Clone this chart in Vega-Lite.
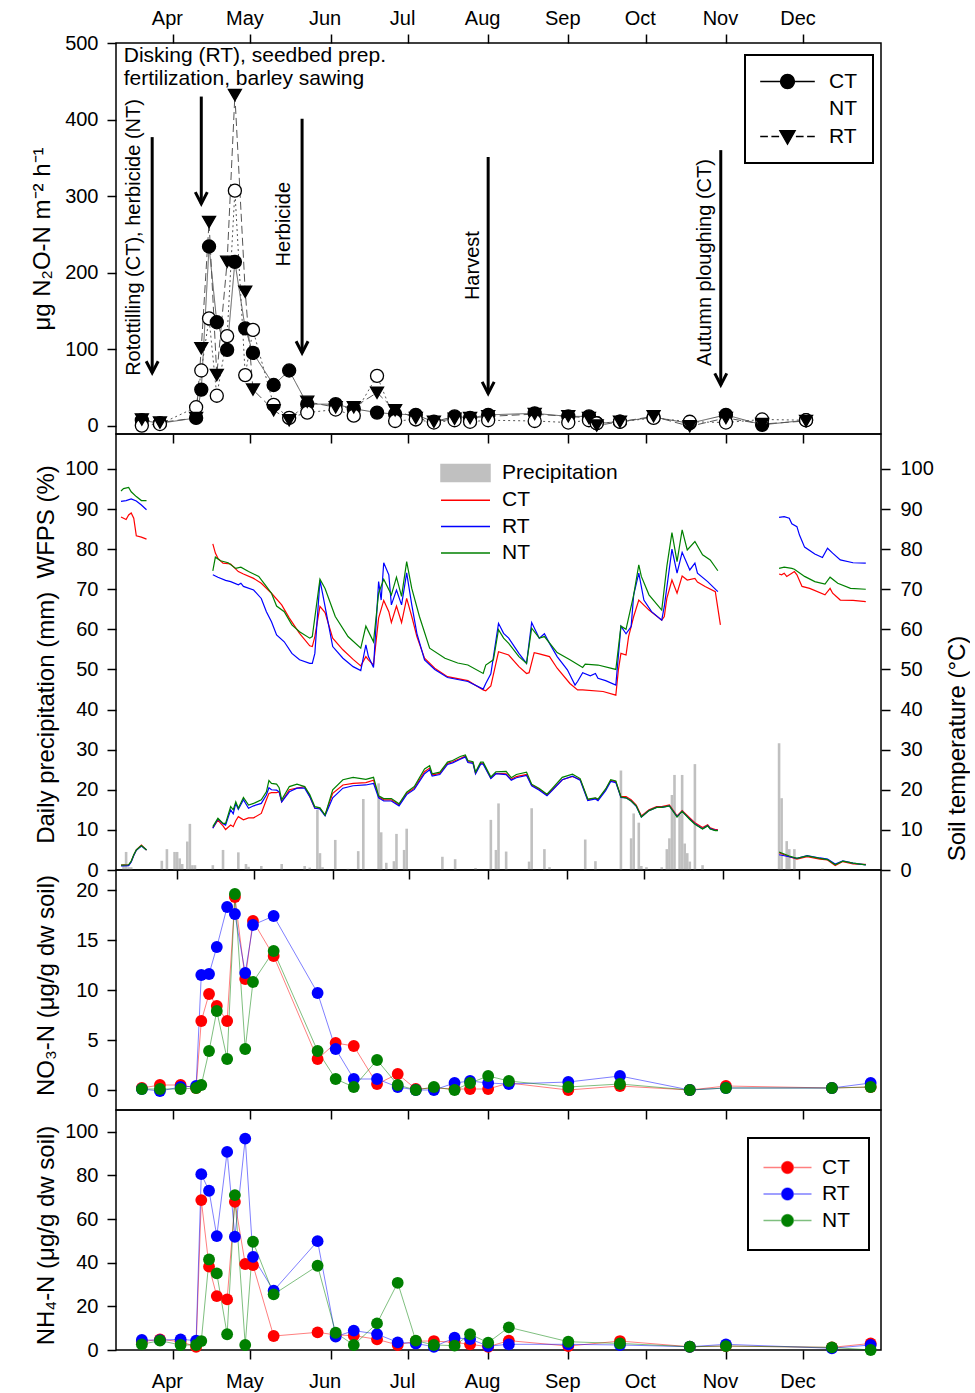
{
"$schema": "https://vega.github.io/schema/vega-lite/v6.json",
"padding": {"left": 29, "top": 7, "right": 0, "bottom": 0},
"bounds": "flush",
"spacing": 0,
"resolve": {"scale": {"color": "independent", "shape": "independent", "fill": "independent", "strokeDash": "independent", "opacity": "independent"}, "legend": {"color": "independent", "shape": "independent", "fill": "independent", "strokeDash": "independent", "opacity": "independent"}},
"config": {
 "font": "Liberation Sans",
 "view": {"stroke": "black", "strokeWidth": 1.5},
 "axis": {"domain": false, "grid": false, "tickColor": "black", "tickWidth": 1.5, "tickSize": 9, "labelFontSize": 20, "labelColor": "black", "labelFont": "Liberation Sans", "titleFont": "Liberation Sans", "titleFontSize": 24, "titleFontWeight": "normal", "titleColor": "black", "labelPadding": 9, "labelFlush": false, "labelOverlap": false},
 "axisBottom": {"labelPadding": 12, "labelOffset": -6},
 "axisTop": {"labelPadding": 6, "labelOffset": -6},
 "legend": {"labelFont": "Liberation Sans", "labelFontSize": 21, "labelColor": "black"}
},
"datasets": {
 "n2o": [
  {"d":"2011-03-20","CT":7,"NT":0,"RT":8},
  {"d":"2011-03-27","CT":3,"NT":2,"RT":4},
  {"d":"2011-04-10","CT":10,"NT":24,"RT":10},
  {"d":"2011-04-12","CT":47,"NT":72,"RT":101},
  {"d":"2011-04-15","CT":234,"NT":140,"RT":266},
  {"d":"2011-04-18","CT":135,"NT":39,"RT":66},
  {"d":"2011-04-22","CT":99,"NT":117,"RT":214},
  {"d":"2011-04-25","CT":214,"NT":307,"RT":432},
  {"d":"2011-04-29","CT":127,"NT":66,"RT":175},
  {"d":"2011-05-02","CT":95,"NT":125,"RT":47},
  {"d":"2011-05-10","CT":53,"NT":27,"RT":20},
  {"d":"2011-05-16","CT":72,"NT":10,"RT":7},
  {"d":"2011-05-23","CT":28,"NT":17,"RT":31},
  {"d":"2011-06-03","CT":28,"NT":21,"RT":24},
  {"d":"2011-06-10","CT":22,"NT":13,"RT":24},
  {"d":"2011-06-19","CT":17,"NT":65,"RT":43},
  {"d":"2011-06-26","CT":15,"NT":6,"RT":20},
  {"d":"2011-07-04","CT":14,"NT":8,"RT":10},
  {"d":"2011-07-11","CT":5,"NT":4,"RT":5},
  {"d":"2011-07-19","CT":12,"NT":7,"RT":9},
  {"d":"2011-07-25","CT":10,"NT":5,"RT":10},
  {"d":"2011-08-01","CT":14,"NT":7,"RT":12},
  {"d":"2011-08-19","CT":16,"NT":6,"RT":15},
  {"d":"2011-09-01","CT":12,"NT":4,"RT":12},
  {"d":"2011-09-09","CT":12,"NT":7,"RT":10},
  {"d":"2011-09-12","CT":3,"NT":3,"RT":0},
  {"d":"2011-09-21","CT":5,"NT":5,"RT":5},
  {"d":"2011-10-04","CT":11,"NT":10,"RT":12},
  {"d":"2011-10-18","CT":3,"NT":5,"RT":-1},
  {"d":"2011-11-01","CT":14,"NT":4,"RT":10},
  {"d":"2011-11-15","CT":1,"NT":8,"RT":2},
  {"d":"2011-12-02","CT":7,"NT":7,"RT":6}
 ],
 "arrows": [
  {"d":"2011-03-24","top":377,"tip":69},
  {"d":"2011-04-12","top":430,"tip":290},
  {"d":"2011-05-21","top":401,"tip":95},
  {"d":"2011-08-01","top":351,"tip":42},
  {"d":"2011-10-30","top":360,"tip":53}
 ],
 "rnotes": [
  {"d":"2011-03-17","v":65,"label":"Rotottilling (CT), herbicide (NT)"},
  {"d":"2011-05-14","v":208,"label":"Herbicide"},
  {"d":"2011-07-26","v":164,"label":"Harvest"},
  {"d":"2011-10-24","v":78,"label":"Autumn ploughing (CT)"}
 ],
 "hnotes": [
  {"d":"2011-03-13","v":475,"label":"Disking (RT), seedbed prep."},
  {"d":"2011-03-13","v":445,"label":"fertilization, barley sawing"}
 ],
 "prec": [
  {"d":"2011-03-11","p":1.5},{"d":"2011-03-12","p":4.5},{"d":"2011-03-13","p":0.7},{"d":"2011-03-14","p":0.7},
  {"d":"2011-03-26","p":2.3},{"d":"2011-03-28","p":5.2},{"d":"2011-03-31","p":4.5},{"d":"2011-04-01","p":4.5},
  {"d":"2011-04-02","p":2.9},{"d":"2011-04-03","p":1.5},{"d":"2011-04-05","p":7.1},{"d":"2011-04-06","p":11.5},
  {"d":"2011-04-07","p":1.2},{"d":"2011-04-08","p":1.2},{"d":"2011-04-15","p":1.2},{"d":"2011-04-19","p":5.0},
  {"d":"2011-04-25","p":4.4},{"d":"2011-04-28","p":1.5},{"d":"2011-04-29","p":0.8},{"d":"2011-05-04","p":1.0},
  {"d":"2011-05-12","p":1.5},{"d":"2011-05-21","p":1.0},{"d":"2011-05-23","p":0.6},{"d":"2011-05-26","p":15.0},
  {"d":"2011-05-27","p":4.2},{"d":"2011-05-28","p":0.7},{"d":"2011-06-02","p":7.5},{"d":"2011-06-07","p":0.3},
  {"d":"2011-06-11","p":4.7},{"d":"2011-06-13","p":17.7},{"d":"2011-06-19","p":21.6},{"d":"2011-06-20","p":9.4},
  {"d":"2011-06-22","p":1.8},{"d":"2011-06-25","p":2.2},{"d":"2011-06-26","p":9.0},{"d":"2011-06-29","p":5.0},
  {"d":"2011-06-30","p":10.3},{"d":"2011-07-14","p":3.3},{"d":"2011-07-19","p":2.7},{"d":"2011-07-27","p":0.5},
  {"d":"2011-08-02","p":12.5},{"d":"2011-08-04","p":5.0},{"d":"2011-08-05","p":16.6},{"d":"2011-08-08","p":4.6},
  {"d":"2011-08-17","p":2.1},{"d":"2011-08-18","p":15.4},{"d":"2011-08-23","p":5.2},{"d":"2011-08-25","p":0.7},
  {"d":"2011-09-08","p":7.6},{"d":"2011-09-12","p":2.2},{"d":"2011-09-22","p":24.8},{"d":"2011-09-26","p":7.9},
  {"d":"2011-09-27","p":14.1},{"d":"2011-09-29","p":11.8},{"d":"2011-09-30","p":1.0},{"d":"2011-10-02","p":0.7},
  {"d":"2011-10-08","p":0.7},{"d":"2011-10-10","p":5.2},{"d":"2011-10-11","p":7.9},{"d":"2011-10-12","p":18.7},
  {"d":"2011-10-13","p":23.7},{"d":"2011-10-15","p":13.7},{"d":"2011-10-16","p":23.7},{"d":"2011-10-17","p":6.6},
  {"d":"2011-10-18","p":4.2},{"d":"2011-10-19","p":2.1},{"d":"2011-10-21","p":26.4},{"d":"2011-10-24","p":1.2},
  {"d":"2011-11-23","p":31.6},{"d":"2011-11-24","p":17.9},{"d":"2011-11-26","p":7.2},{"d":"2011-11-27","p":5.2},
  {"d":"2011-11-29","p":5.2},{"d":"2011-12-10","p":0.4}
 ],
 "wfps": [
  {"d":"2011-03-10","s":1,"CT":88.0,"RT":91.9,"NT":94.5},
  {"d":"2011-03-11","s":1,"CT":null,"RT":null,"NT":95.1},
  {"d":"2011-03-12","s":1,"CT":87.4,"RT":92.1,"NT":null},
  {"d":"2011-03-13","s":1,"CT":88.5,"RT":null,"NT":95.4},
  {"d":"2011-03-14","s":1,"CT":89.0,"RT":92.5,"NT":94.3},
  {"d":"2011-03-15","s":1,"CT":87.7,"RT":null,"NT":null},
  {"d":"2011-03-16","s":1,"CT":83.3,"RT":92.0,"NT":93.1},
  {"d":"2011-03-18","s":1,"CT":83.0,"RT":91.0,"NT":92.1},
  {"d":"2011-03-20","s":1,"CT":82.5,"RT":89.8,"NT":92.1},
  {"d":"2011-04-15","s":2,"CT":81.3,"RT":73.6,"NT":74.6},
  {"d":"2011-04-16","s":2,"CT":79.0,"RT":null,"NT":78.0},
  {"d":"2011-04-17","s":2,"CT":77.7,"RT":73.0,"NT":null},
  {"d":"2011-04-18","s":2,"CT":null,"RT":null,"NT":77.1},
  {"d":"2011-04-19","s":2,"CT":76.5,"RT":null,"NT":null},
  {"d":"2011-04-20","s":2,"CT":null,"RT":72.2,"NT":null},
  {"d":"2011-04-21","s":2,"CT":null,"RT":null,"NT":76.6},
  {"d":"2011-04-22","s":2,"CT":76.3,"RT":71.9,"NT":null},
  {"d":"2011-04-24","s":2,"CT":null,"RT":null,"NT":75.2},
  {"d":"2011-04-25","s":2,"CT":74.4,"RT":71.1,"NT":null},
  {"d":"2011-04-26","s":2,"CT":null,"RT":71.5,"NT":75.5},
  {"d":"2011-04-27","s":2,"CT":73.8,"RT":70.7,"NT":null},
  {"d":"2011-04-29","s":2,"CT":null,"RT":null,"NT":74.4},
  {"d":"2011-05-01","s":2,"CT":72.7,"RT":69.8,"NT":null},
  {"d":"2011-05-03","s":2,"CT":null,"RT":null,"NT":73.2},
  {"d":"2011-05-04","s":2,"CT":71.5,"RT":67.7,"NT":null},
  {"d":"2011-05-05","s":2,"CT":null,"RT":null,"NT":71.5},
  {"d":"2011-05-06","s":2,"CT":null,"RT":64.4,"NT":null},
  {"d":"2011-05-08","s":2,"CT":69.0,"RT":61.9,"NT":69.0},
  {"d":"2011-05-10","s":2,"CT":null,"RT":58.6,"NT":65.8},
  {"d":"2011-05-12","s":2,"CT":66.1,"RT":null,"NT":null},
  {"d":"2011-05-13","s":2,"CT":null,"RT":56.9,"NT":64.4},
  {"d":"2011-05-15","s":2,"CT":62.8,"RT":null,"NT":null},
  {"d":"2011-05-16","s":2,"CT":null,"RT":54.0,"NT":61.1},
  {"d":"2011-05-19","s":2,"CT":59.0,"RT":52.4,"NT":59.4},
  {"d":"2011-05-23","s":2,"CT":55.9,"RT":51.5,"NT":57.8},
  {"d":"2011-05-24","s":2,"CT":55.7,"RT":51.5,"NT":58.2},
  {"d":"2011-05-25","s":2,"CT":58.2,"RT":54.0,"NT":null},
  {"d":"2011-05-27","s":2,"CT":65.7,"RT":72.2,"NT":72.5},
  {"d":"2011-05-28","s":2,"CT":null,"RT":69.0,"NT":null},
  {"d":"2011-05-29","s":2,"CT":64.2,"RT":null,"NT":70.2},
  {"d":"2011-06-01","s":2,"CT":57.8,"RT":55.7,"NT":null},
  {"d":"2011-06-02","s":2,"CT":null,"RT":null,"NT":63.2},
  {"d":"2011-06-05","s":2,"CT":54.9,"RT":52.8,"NT":null},
  {"d":"2011-06-07","s":2,"CT":null,"RT":null,"NT":58.2},
  {"d":"2011-06-09","s":2,"CT":52.5,"RT":50.7,"NT":null},
  {"d":"2011-06-12","s":2,"CT":50.9,"RT":49.7,"NT":55.3},
  {"d":"2011-06-14","s":2,"CT":53.2,"RT":56.1,"NT":60.8},
  {"d":"2011-06-15","s":2,"CT":52.4,"RT":53.2,"NT":null},
  {"d":"2011-06-17","s":2,"CT":51.1,"RT":50.5,"NT":56.9},
  {"d":"2011-06-19","s":2,"CT":62.8,"RT":71.9,"NT":69.0},
  {"d":"2011-06-20","s":2,"CT":null,"RT":67.3,"NT":null},
  {"d":"2011-06-21","s":2,"CT":67.2,"RT":76.6,"NT":72.5},
  {"d":"2011-06-23","s":2,"CT":64.4,"RT":73.6,"NT":null},
  {"d":"2011-06-24","s":2,"CT":61.7,"RT":66.1,"NT":68.6},
  {"d":"2011-06-26","s":2,"CT":65.8,"RT":69.8,"NT":73.0},
  {"d":"2011-06-28","s":2,"CT":61.7,"RT":66.1,"NT":68.2},
  {"d":"2011-06-30","s":2,"CT":67.7,"RT":74.1,"NT":76.9},
  {"d":"2011-07-02","s":2,"CT":63.2,"RT":66.1,"NT":70.2},
  {"d":"2011-07-04","s":2,"CT":58.2,"RT":59.0,"NT":null},
  {"d":"2011-07-05","s":2,"CT":null,"RT":null,"NT":63.2},
  {"d":"2011-07-07","s":2,"CT":52.8,"RT":52.4,"NT":null},
  {"d":"2011-07-09","s":2,"CT":null,"RT":null,"NT":55.3},
  {"d":"2011-07-11","s":2,"CT":50.3,"RT":50.0,"NT":null},
  {"d":"2011-07-15","s":2,"CT":null,"RT":null,"NT":52.8},
  {"d":"2011-07-16","s":2,"CT":48.2,"RT":48.0,"NT":null},
  {"d":"2011-07-20","s":2,"CT":null,"RT":null,"NT":51.6},
  {"d":"2011-07-24","s":2,"CT":47.2,"RT":47.0,"NT":51.1},
  {"d":"2011-07-30","s":2,"CT":44.9,"RT":45.1,"NT":49.0},
  {"d":"2011-07-31","s":2,"CT":44.7,"RT":46.5,"NT":51.1},
  {"d":"2011-08-02","s":2,"CT":45.9,"RT":48.9,"NT":null},
  {"d":"2011-08-03","s":2,"CT":null,"RT":null,"NT":52.4},
  {"d":"2011-08-05","s":2,"CT":54.4,"RT":61.5,"NT":59.9},
  {"d":"2011-08-07","s":2,"CT":null,"RT":59.0,"NT":57.8},
  {"d":"2011-08-09","s":2,"CT":53.6,"RT":57.8,"NT":56.5},
  {"d":"2011-08-13","s":2,"CT":50.7,"RT":54.0,"NT":53.2},
  {"d":"2011-08-16","s":2,"CT":49.0,"RT":51.5,"NT":51.5},
  {"d":"2011-08-17","s":2,"CT":49.2,"RT":null,"NT":null},
  {"d":"2011-08-18","s":2,"CT":null,"RT":61.7,"NT":60.3},
  {"d":"2011-08-19","s":2,"CT":54.2,"RT":null,"NT":null},
  {"d":"2011-08-21","s":2,"CT":53.9,"RT":57.8,"NT":57.8},
  {"d":"2011-08-23","s":2,"CT":null,"RT":58.9,"NT":58.2},
  {"d":"2011-08-25","s":2,"CT":53.2,"RT":56.5,"NT":null},
  {"d":"2011-08-28","s":2,"CT":50.3,"RT":53.2,"NT":54.2},
  {"d":"2011-09-01","s":2,"CT":null,"RT":49.9,"NT":null},
  {"d":"2011-09-02","s":2,"CT":46.5,"RT":null,"NT":52.4},
  {"d":"2011-09-04","s":2,"CT":null,"RT":46.1,"NT":null},
  {"d":"2011-09-05","s":2,"CT":44.9,"RT":47.0,"NT":null},
  {"d":"2011-09-07","s":2,"CT":44.9,"RT":49.2,"NT":50.5},
  {"d":"2011-09-08","s":2,"CT":null,"RT":null,"NT":51.3},
  {"d":"2011-09-10","s":2,"CT":null,"RT":48.4,"NT":null},
  {"d":"2011-09-12","s":2,"CT":null,"RT":49.0,"NT":null},
  {"d":"2011-09-13","s":2,"CT":null,"RT":47.8,"NT":51.1},
  {"d":"2011-09-15","s":2,"CT":44.5,"RT":null,"NT":null},
  {"d":"2011-09-16","s":2,"CT":null,"RT":47.2,"NT":null},
  {"d":"2011-09-20","s":2,"CT":43.6,"RT":46.1,"NT":50.0},
  {"d":"2011-09-21","s":2,"CT":49.9,"RT":null,"NT":null},
  {"d":"2011-09-22","s":2,"CT":54.0,"RT":60.8,"NT":60.8},
  {"d":"2011-09-24","s":2,"CT":53.6,"RT":58.9,"NT":60.0},
  {"d":"2011-09-25","s":2,"CT":58.2,"RT":null,"NT":null},
  {"d":"2011-09-26","s":2,"CT":null,"RT":60.7,"NT":null},
  {"d":"2011-09-27","s":2,"CT":63.2,"RT":68.6,"NT":68.6},
  {"d":"2011-09-29","s":2,"CT":67.3,"RT":74.0,"NT":76.1},
  {"d":"2011-09-30","s":2,"CT":null,"RT":null,"NT":73.2},
  {"d":"2011-10-01","s":2,"CT":null,"RT":67.3,"NT":null},
  {"d":"2011-10-03","s":2,"CT":64.8,"RT":null,"NT":68.6},
  {"d":"2011-10-04","s":2,"CT":null,"RT":64.4,"NT":null},
  {"d":"2011-10-08","s":2,"CT":62.3,"RT":62.3,"NT":64.8},
  {"d":"2011-10-09","s":2,"CT":63.2,"RT":65.7,"NT":null},
  {"d":"2011-10-10","s":2,"CT":67.7,"RT":null,"NT":75.7},
  {"d":"2011-10-12","s":2,"CT":72.3,"RT":80.0,"NT":84.1},
  {"d":"2011-10-14","s":2,"CT":69.0,"RT":74.0,"NT":76.9},
  {"d":"2011-10-16","s":2,"CT":73.3,"RT":79.2,"NT":84.8},
  {"d":"2011-10-18","s":2,"CT":72.3,"RT":null,"NT":79.8},
  {"d":"2011-10-19","s":2,"CT":null,"RT":74.8,"NT":null},
  {"d":"2011-10-21","s":2,"CT":72.7,"RT":76.5,"NT":81.9},
  {"d":"2011-10-22","s":2,"CT":71.8,"RT":74.0,"NT":null},
  {"d":"2011-10-24","s":2,"CT":null,"RT":null,"NT":78.6},
  {"d":"2011-10-25","s":2,"CT":70.7,"RT":null,"NT":null},
  {"d":"2011-10-26","s":2,"CT":null,"RT":71.9,"NT":null},
  {"d":"2011-10-27","s":2,"CT":null,"RT":null,"NT":77.3},
  {"d":"2011-10-29","s":2,"CT":69.4,"RT":null,"NT":null},
  {"d":"2011-10-30","s":2,"CT":null,"RT":69.4,"NT":74.6},
  {"d":"2011-10-31","s":2,"CT":61.1,"RT":null,"NT":null},
  {"d":"2011-11-23","s":3,"CT":73.8,"RT":87.9,"NT":75.2},
  {"d":"2011-11-24","s":3,"CT":73.6,"RT":null,"NT":null},
  {"d":"2011-11-25","s":3,"CT":74.0,"RT":88.1,"NT":75.5},
  {"d":"2011-11-26","s":3,"CT":73.2,"RT":null,"NT":null},
  {"d":"2011-11-27","s":3,"CT":null,"RT":87.7,"NT":null},
  {"d":"2011-11-28","s":3,"CT":74.0,"RT":86.3,"NT":75.2},
  {"d":"2011-11-29","s":3,"CT":74.4,"RT":null,"NT":75.0},
  {"d":"2011-11-30","s":3,"CT":73.6,"RT":85.6,"NT":null},
  {"d":"2011-12-01","s":3,"CT":null,"RT":83.5,"NT":null},
  {"d":"2011-12-02","s":3,"CT":70.7,"RT":null,"NT":null},
  {"d":"2011-12-03","s":3,"CT":null,"RT":80.5,"NT":73.2},
  {"d":"2011-12-05","s":3,"CT":70.2,"RT":null,"NT":null},
  {"d":"2011-12-07","s":3,"CT":null,"RT":78.8,"NT":71.9},
  {"d":"2011-12-10","s":3,"CT":null,"RT":77.9,"NT":null},
  {"d":"2011-12-11","s":3,"CT":68.6,"RT":null,"NT":71.3},
  {"d":"2011-12-12","s":3,"CT":null,"RT":80.2,"NT":null},
  {"d":"2011-12-13","s":3,"CT":70.2,"RT":null,"NT":73.0},
  {"d":"2011-12-14","s":3,"CT":69.0,"RT":79.0,"NT":null},
  {"d":"2011-12-16","s":3,"CT":null,"RT":null,"NT":71.5},
  {"d":"2011-12-17","s":3,"CT":67.3,"RT":77.3,"NT":null},
  {"d":"2011-12-21","s":3,"CT":null,"RT":null,"NT":70.2},
  {"d":"2011-12-22","s":3,"CT":67.2,"RT":76.6,"NT":null},
  {"d":"2011-12-27","s":3,"CT":66.9,"RT":76.5,"NT":70.0}
 ],
 "temp": [
  {"d":"2011-03-10","s":1,"CT":1.2,"RT":1.0,"NT":1.2},
  {"d":"2011-03-13","s":1,"CT":1.2,"RT":1.1,"NT":1.3},
  {"d":"2011-03-14","s":1,"CT":2.1,"RT":2.0,"NT":2.2},
  {"d":"2011-03-15","s":1,"CT":3.7,"RT":3.6,"NT":3.8},
  {"d":"2011-03-16","s":1,"CT":5.0,"RT":4.9,"NT":5.0},
  {"d":"2011-03-18","s":1,"CT":6.2,"RT":6.0,"NT":6.1},
  {"d":"2011-03-20","s":1,"CT":5.0,"RT":5.0,"NT":5.0},
  {"d":"2011-04-15","s":2,"CT":10.5,"RT":10.4,"NT":10.8},
  {"d":"2011-04-17","s":2,"CT":12.4,"RT":12.7,"NT":12.9},
  {"d":"2011-04-19","s":2,"CT":11.0,"RT":11.5,"NT":11.6},
  {"d":"2011-04-20","s":2,"CT":10.1,"RT":11.2,"NT":11.6},
  {"d":"2011-04-22","s":2,"CT":11.2,"RT":15.0,"NT":15.8},
  {"d":"2011-04-23","s":2,"CT":10.8,"RT":14.0,"NT":15.0},
  {"d":"2011-04-24","s":2,"CT":12.3,"RT":16.6,"NT":17.0},
  {"d":"2011-04-25","s":2,"CT":13.3,"RT":15.1,"NT":15.4},
  {"d":"2011-04-27","s":2,"CT":12.5,"RT":17.5,"NT":18.1},
  {"d":"2011-04-29","s":2,"CT":13.0,"RT":15.4,"NT":16.2},
  {"d":"2011-05-01","s":2,"CT":13.0,"RT":16.0,"NT":16.6},
  {"d":"2011-05-04","s":2,"CT":14.1,"RT":16.6,"NT":17.5},
  {"d":"2011-05-06","s":2,"CT":17.5,"RT":18.7,"NT":19.5},
  {"d":"2011-05-07","s":2,"CT":19.1,"RT":20.5,"NT":22.3},
  {"d":"2011-05-08","s":2,"CT":19.3,"RT":20.0,"NT":21.6},
  {"d":"2011-05-10","s":2,"CT":19.3,"RT":19.9,"NT":21.4},
  {"d":"2011-05-11","s":2,"CT":19.5,"RT":19.5,"NT":20.5},
  {"d":"2011-05-12","s":2,"CT":17.0,"RT":17.0,"NT":17.5},
  {"d":"2011-05-15","s":2,"CT":20.0,"RT":19.5,"NT":20.8},
  {"d":"2011-05-18","s":2,"CT":20.4,"RT":20.4,"NT":21.4},
  {"d":"2011-05-21","s":2,"CT":20.8,"RT":20.4,"NT":20.8},
  {"d":"2011-05-23","s":2,"CT":18.3,"RT":18.3,"NT":18.8},
  {"d":"2011-05-25","s":2,"CT":15.4,"RT":15.4,"NT":15.8},
  {"d":"2011-05-27","s":2,"CT":15.4,"RT":15.2,"NT":15.5},
  {"d":"2011-05-29","s":2,"CT":13.7,"RT":13.5,"NT":13.7},
  {"d":"2011-06-01","s":2,"CT":19.1,"RT":18.0,"NT":20.0},
  {"d":"2011-06-05","s":2,"CT":21.2,"RT":20.4,"NT":22.5},
  {"d":"2011-06-09","s":2,"CT":21.6,"RT":21.0,"NT":23.1},
  {"d":"2011-06-14","s":2,"CT":21.8,"RT":21.2,"NT":22.6},
  {"d":"2011-06-17","s":2,"CT":22.4,"RT":21.6,"NT":23.1},
  {"d":"2011-06-19","s":2,"CT":18.3,"RT":18.0,"NT":18.5},
  {"d":"2011-06-21","s":2,"CT":17.5,"RT":17.2,"NT":17.8},
  {"d":"2011-06-24","s":2,"CT":17.5,"RT":17.2,"NT":17.8},
  {"d":"2011-06-27","s":2,"CT":16.2,"RT":16.0,"NT":16.5},
  {"d":"2011-06-30","s":2,"CT":19.1,"RT":18.8,"NT":19.4},
  {"d":"2011-07-03","s":2,"CT":20.4,"RT":20.1,"NT":20.8},
  {"d":"2011-07-07","s":2,"CT":24.5,"RT":24.0,"NT":25.2},
  {"d":"2011-07-09","s":2,"CT":25.4,"RT":25.0,"NT":26.0},
  {"d":"2011-07-10","s":2,"CT":23.7,"RT":23.4,"NT":24.0},
  {"d":"2011-07-13","s":2,"CT":24.1,"RT":23.8,"NT":24.4},
  {"d":"2011-07-16","s":2,"CT":26.6,"RT":26.3,"NT":26.9},
  {"d":"2011-07-18","s":2,"CT":27.0,"RT":26.7,"NT":27.3},
  {"d":"2011-07-21","s":2,"CT":27.8,"RT":27.6,"NT":28.3},
  {"d":"2011-07-23","s":2,"CT":28.4,"RT":28.2,"NT":28.7},
  {"d":"2011-07-24","s":2,"CT":27.0,"RT":26.8,"NT":27.3},
  {"d":"2011-07-26","s":2,"CT":26.8,"RT":26.6,"NT":27.0},
  {"d":"2011-07-27","s":2,"CT":24.1,"RT":24.0,"NT":24.4},
  {"d":"2011-07-29","s":2,"CT":26.6,"RT":26.4,"NT":26.9},
  {"d":"2011-07-30","s":2,"CT":26.6,"RT":26.4,"NT":26.9},
  {"d":"2011-08-01","s":2,"CT":24.1,"RT":24.0,"NT":24.4},
  {"d":"2011-08-02","s":2,"CT":22.9,"RT":22.8,"NT":23.2},
  {"d":"2011-08-04","s":2,"CT":24.1,"RT":24.0,"NT":24.5},
  {"d":"2011-08-08","s":2,"CT":24.0,"RT":23.8,"NT":24.6},
  {"d":"2011-08-10","s":2,"CT":22.6,"RT":22.4,"NT":23.0},
  {"d":"2011-08-12","s":2,"CT":23.3,"RT":23.0,"NT":23.8},
  {"d":"2011-08-16","s":2,"CT":23.8,"RT":23.6,"NT":24.4},
  {"d":"2011-08-18","s":2,"CT":21.2,"RT":21.0,"NT":21.4},
  {"d":"2011-08-21","s":2,"CT":20.1,"RT":19.9,"NT":20.3},
  {"d":"2011-08-24","s":2,"CT":18.7,"RT":18.5,"NT":18.9},
  {"d":"2011-08-26","s":2,"CT":20.0,"RT":19.8,"NT":20.3},
  {"d":"2011-08-30","s":2,"CT":22.5,"RT":22.5,"NT":23.1},
  {"d":"2011-09-03","s":2,"CT":23.3,"RT":23.4,"NT":23.9},
  {"d":"2011-09-06","s":2,"CT":22.6,"RT":22.4,"NT":22.8},
  {"d":"2011-09-09","s":2,"CT":17.5,"RT":17.3,"NT":17.7},
  {"d":"2011-09-12","s":2,"CT":17.9,"RT":17.7,"NT":18.0},
  {"d":"2011-09-13","s":2,"CT":17.5,"RT":17.3,"NT":17.7},
  {"d":"2011-09-16","s":2,"CT":20.0,"RT":19.8,"NT":20.2},
  {"d":"2011-09-18","s":2,"CT":22.3,"RT":22.1,"NT":22.5},
  {"d":"2011-09-20","s":2,"CT":22.0,"RT":21.8,"NT":22.2},
  {"d":"2011-09-22","s":2,"CT":18.3,"RT":18.1,"NT":18.2},
  {"d":"2011-09-24","s":2,"CT":18.3,"RT":18.0,"NT":18.0},
  {"d":"2011-09-26","s":2,"CT":17.5,"RT":17.2,"NT":17.2},
  {"d":"2011-09-28","s":2,"CT":16.2,"RT":15.9,"NT":16.0},
  {"d":"2011-09-30","s":2,"CT":13.5,"RT":13.2,"NT":13.2},
  {"d":"2011-10-03","s":2,"CT":15.0,"RT":14.8,"NT":14.8},
  {"d":"2011-10-06","s":2,"CT":15.8,"RT":15.6,"NT":15.6},
  {"d":"2011-10-08","s":2,"CT":15.8,"RT":15.6,"NT":15.6},
  {"d":"2011-10-11","s":2,"CT":16.2,"RT":16.0,"NT":16.0},
  {"d":"2011-10-14","s":2,"CT":13.5,"RT":13.3,"NT":13.2},
  {"d":"2011-10-16","s":2,"CT":14.8,"RT":14.6,"NT":14.6},
  {"d":"2011-10-19","s":2,"CT":13.0,"RT":12.7,"NT":12.6},
  {"d":"2011-10-21","s":2,"CT":11.8,"RT":11.5,"NT":11.4},
  {"d":"2011-10-24","s":2,"CT":10.6,"RT":10.3,"NT":10.2},
  {"d":"2011-10-26","s":2,"CT":11.3,"RT":11.1,"NT":11.0},
  {"d":"2011-10-27","s":2,"CT":10.5,"RT":10.3,"NT":10.2},
  {"d":"2011-10-29","s":2,"CT":10.1,"RT":9.9,"NT":9.8},
  {"d":"2011-10-30","s":2,"CT":10.1,"RT":9.9,"NT":9.8},
  {"d":"2011-11-23","s":3,"CT":4.3,"RT":3.8,"NT":4.5},
  {"d":"2011-11-27","s":3,"CT":3.3,"RT":3.3,"NT":3.5},
  {"d":"2011-11-30","s":3,"CT":2.7,"RT":2.9,"NT":2.9},
  {"d":"2011-12-04","s":3,"CT":3.3,"RT":3.6,"NT":3.5},
  {"d":"2011-12-09","s":3,"CT":2.7,"RT":3.0,"NT":2.9},
  {"d":"2011-12-12","s":3,"CT":2.5,"RT":2.7,"NT":2.6},
  {"d":"2011-12-15","s":3,"CT":1.1,"RT":1.5,"NT":1.3},
  {"d":"2011-12-18","s":3,"CT":2.1,"RT":2.3,"NT":2.2},
  {"d":"2011-12-22","s":3,"CT":1.5,"RT":1.7,"NT":1.7},
  {"d":"2011-12-27","s":3,"CT":1.4,"RT":1.3,"NT":1.3}
 ],
 "no3": [
  {"d":"2011-03-20","CT":0.2,"RT":0.1,"NT":0.1},
  {"d":"2011-03-27","CT":0.5,"RT":-0.1,"NT":0.1},
  {"d":"2011-04-04","CT":0.5,"RT":0.3,"NT":0.1},
  {"d":"2011-04-10","CT":0.2,"RT":0.4,"NT":0.2},
  {"d":"2011-04-12","CT":6.9,"RT":11.5,"NT":0.5},
  {"d":"2011-04-15","CT":9.6,"RT":11.6,"NT":3.9},
  {"d":"2011-04-18","CT":8.4,"RT":14.3,"NT":7.9},
  {"d":"2011-04-22","CT":6.9,"RT":18.3,"NT":3.1},
  {"d":"2011-04-25","CT":19.3,"RT":17.6,"NT":19.6},
  {"d":"2011-04-29","CT":11.1,"RT":11.7,"NT":4.1},
  {"d":"2011-05-02","CT":16.9,"RT":16.5,"NT":10.8},
  {"d":"2011-05-10","CT":13.4,"RT":17.4,"NT":13.9},
  {"d":"2011-05-27","CT":3.1,"RT":9.7,"NT":3.9},
  {"d":"2011-06-03","CT":4.7,"RT":4.1,"NT":1.1},
  {"d":"2011-06-10","CT":4.4,"RT":1.1,"NT":0.3},
  {"d":"2011-06-19","CT":0.6,"RT":1.1,"NT":3.0},
  {"d":"2011-06-27","CT":1.6,"RT":0.3,"NT":0.5},
  {"d":"2011-07-04","CT":0.1,"RT":0.0,"NT":0.0},
  {"d":"2011-07-11","CT":0.2,"RT":0.0,"NT":0.3},
  {"d":"2011-07-19","CT":0.1,"RT":0.7,"NT":0.0},
  {"d":"2011-07-25","CT":0.1,"RT":0.9,"NT":0.7},
  {"d":"2011-08-01","CT":0.1,"RT":0.7,"NT":1.4},
  {"d":"2011-08-09","CT":0.7,"RT":0.6,"NT":0.9},
  {"d":"2011-09-01","CT":0.0,"RT":0.8,"NT":0.3},
  {"d":"2011-09-21","CT":0.4,"RT":1.4,"NT":0.6},
  {"d":"2011-10-18","CT":0.0,"RT":0.0,"NT":0.0},
  {"d":"2011-11-01","CT":0.4,"RT":0.2,"NT":0.2},
  {"d":"2011-12-12","CT":0.2,"RT":0.2,"NT":0.2},
  {"d":"2011-12-27","CT":0.3,"RT":0.7,"NT":0.3}
 ],
 "nh4": [
  {"d":"2011-03-20","CT":3.8,"RT":4.6,"NT":2.6},
  {"d":"2011-03-27","CT":4.9,"RT":4.5,"NT":4.3},
  {"d":"2011-04-04","CT":3.8,"RT":4.9,"NT":2.3},
  {"d":"2011-04-10","CT":1.5,"RT":4.3,"NT":2.3},
  {"d":"2011-04-12","CT":68.7,"RT":80.6,"NT":4.1},
  {"d":"2011-04-15","CT":38.2,"RT":73.0,"NT":41.5},
  {"d":"2011-04-18","CT":24.7,"RT":52.2,"NT":35.1},
  {"d":"2011-04-22","CT":23.2,"RT":90.8,"NT":7.2},
  {"d":"2011-04-25","CT":67.9,"RT":51.9,"NT":71.0},
  {"d":"2011-04-29","CT":39.4,"RT":96.9,"NT":2.3},
  {"d":"2011-05-02","CT":38.9,"RT":42.7,"NT":49.6},
  {"d":"2011-05-10","CT":6.4,"RT":27.2,"NT":25.5},
  {"d":"2011-05-27","CT":8.1,"RT":49.9,"NT":38.6},
  {"d":"2011-06-03","CT":6.9,"RT":6.1,"NT":7.9},
  {"d":"2011-06-10","CT":6.6,"RT":8.9,"NT":2.3},
  {"d":"2011-06-19","CT":4.9,"RT":7.3,"NT":12.2},
  {"d":"2011-06-27","CT":2.3,"RT":3.5,"NT":30.8},
  {"d":"2011-07-04","CT":4.1,"RT":3.0,"NT":4.3},
  {"d":"2011-07-11","CT":4.1,"RT":1.5,"NT":2.3},
  {"d":"2011-07-19","CT":3.5,"RT":5.6,"NT":2.0},
  {"d":"2011-07-25","CT":2.6,"RT":5.0,"NT":7.2},
  {"d":"2011-08-01","CT":1.5,"RT":1.8,"NT":3.4},
  {"d":"2011-08-09","CT":4.3,"RT":2.6,"NT":10.4},
  {"d":"2011-09-01","CT":1.8,"RT":2.6,"NT":3.8},
  {"d":"2011-09-21","CT":4.1,"RT":2.3,"NT":3.0},
  {"d":"2011-10-18","CT":1.5,"RT":1.5,"NT":1.5},
  {"d":"2011-11-01","CT":1.8,"RT":2.6,"NT":1.8},
  {"d":"2011-12-12","CT":1.2,"RT":0.8,"NT":1.2},
  {"d":"2011-12-27","CT":3.0,"RT":2.3,"NT":0.0}
 ]
},
"vconcat": [
 {
  "width": 765, "height": 391,
  "resolve": {"axis": {"x": "independent"}},
  "layer": [
   {
    "data": {"name": "n2o"},
    "transform": [{"fold": ["CT","NT","RT"], "as": ["t","v"]}],
    "mark": {"type": "line", "color": "#555555", "strokeWidth": 1},
    "encoding": {
     "x": {"field": "d", "type": "temporal", "scale": {"type": "utc", "domain": [{"year":2011,"month":3,"date":10,"utc":true},{"year":2011,"month":12,"date":31,"utc":true}]},
      "axis": {"orient": "top", "title": null, "labelExpr": "utcFormat(datum.value, '%b')", "values": [{"year":2011,"month":4,"date":1,"utc":true},{"year":2011,"month":5,"date":1,"utc":true},{"year":2011,"month":6,"date":1,"utc":true},{"year":2011,"month":7,"date":1,"utc":true},{"year":2011,"month":8,"date":1,"utc":true},{"year":2011,"month":9,"date":1,"utc":true},{"year":2011,"month":10,"date":1,"utc":true},{"year":2011,"month":11,"date":1,"utc":true},{"year":2011,"month":12,"date":1,"utc":true}]}},
     "y": {"field": "v", "type": "quantitative", "scale": {"domain": [-11, 500]},
      "axis": {"values": [0,50,100,150,200,250,300,350,400,450,500], "labelOverlap": false, "title": "μg N₂O-N m⁻² h⁻¹", "titleX": -74, "titleY": 195.5, "titleAngle": 270, "titleBaseline": "middle", "titleAlign": "center"}},
     "detail": {"field": "t", "type": "nominal"},
     "strokeDash": {"condition": [{"test": "datum.t === 'NT'", "value": [2,3]}, {"test": "datum.t === 'RT'", "value": [8,4]}], "value": [1,0]}
    }
   },
   {
    "data": {"name": "n2o"},
    "transform": [{"fold": ["CT","NT","RT"], "as": ["t","v"]}],
    "encoding": {
     "x": {"field": "d", "type": "temporal", "scale": {"type": "utc", "domain": [{"year":2011,"month":3,"date":10,"utc":true},{"year":2011,"month":12,"date":31,"utc":true}]},
      "axis": {"orient": "bottom", "title": null, "labels": false, "values": [{"year":2011,"month":4,"date":1,"utc":true},{"year":2011,"month":5,"date":1,"utc":true},{"year":2011,"month":6,"date":1,"utc":true},{"year":2011,"month":7,"date":1,"utc":true},{"year":2011,"month":8,"date":1,"utc":true},{"year":2011,"month":9,"date":1,"utc":true},{"year":2011,"month":10,"date":1,"utc":true},{"year":2011,"month":11,"date":1,"utc":true},{"year":2011,"month":12,"date":1,"utc":true}]}},
     "y": {"field": "v", "type": "quantitative", "scale": {"domain": [-11, 500]}},
     "color": {"field": "t", "type": "nominal", "scale": {"domain": ["CT","NT","RT"], "range": ["black","white","black"]},
      "legend": {"orient": "none", "legendX": 629, "legendY": 12, "title": null, "padding": 16, "strokeColor": "black", "fillColor": "white", "symbolSize": 196, "symbolOffset": 16, "labelOffset": 31, "rowPadding": 5.5,
       "encode": {
        "legend": {"update": {"strokeWidth": {"value": 2}}},
        "symbols": {"update": {
         "shape": {"signal": "datum.value === 'CT' ? 'M-3.9,0H-1M1,0H3.9M1,0A1,1,0,1,1,-1,0A1,1,0,1,1,1,0Z' : (datum.value === 'NT' ? 'M-3.9,0H-3.6M-3.2,0H-2.9M-2.5,0H-2.2M-1.8,0H-1.5M1.5,0H1.8M2.2,0H2.5M2.9,0H3.2M3.6,0H3.9M1,0A1,1,0,1,1,-1,0A1,1,0,1,1,1,0Z' : 'M-3.9,0H-2.8M-2.3,0H-1.2M1.2,0H2.3M2.8,0H3.9M-1.1,-0.85H1.1L0,1.1Z')"},
         "fill": {"signal": "datum.value === 'NT' ? 'white' : 'black'"},
         "stroke": {"value": "#222222"},
         "strokeWidth": {"value": 1.3},
         "strokeOpacity": {"value": 1},
         "size": {"value": 196},
         "opacity": {"value": 1}
        }}
       }}}
    },
    "layer": [
     {"mark": {"type": "line", "strokeWidth": 1, "strokeOpacity": 0}},
     {"transform": [{"filter": "datum.t !== 'RT'"}], "mark": {"type": "circle", "size": 170, "stroke": "black", "strokeWidth": 1.3, "opacity": 1}}
    ]
   },
   {
    "data": {"name": "n2o"},
    "transform": [{"fold": ["CT","NT","RT"], "as": ["t","v"]}, {"filter": "datum.t === 'RT'"}],
    "mark": {"type": "point", "shape": "triangle-down", "filled": true, "color": "black", "stroke": "black", "strokeWidth": 1.3, "size": 170, "opacity": 1},
    "encoding": {
     "x": {"field": "d", "type": "temporal", "scale": {"type": "utc", "domain": [{"year":2011,"month":3,"date":10,"utc":true},{"year":2011,"month":12,"date":31,"utc":true}]}, "axis": null},
     "y": {"field": "v", "type": "quantitative", "scale": {"domain": [-11, 500]}}
    }
   },
   {
    "data": {"name": "arrows"},
    "mark": {"type": "rule", "strokeWidth": 3, "color": "black"},
    "encoding": {
     "x": {"field": "d", "type": "temporal", "scale": {"type": "utc", "domain": [{"year":2011,"month":3,"date":10,"utc":true},{"year":2011,"month":12,"date":31,"utc":true}]}, "axis": null},
     "y": {"field": "top", "type": "quantitative", "scale": {"domain": [-11, 500]}},
     "y2": {"field": "tip"}
    }
   },
   {
    "data": {"name": "arrows"},
    "mark": {"type": "point", "shape": "M-0.75,-1.45L0,0L0.75,-1.45", "size": 256, "filled": false, "stroke": "black", "strokeWidth": 3, "opacity": 1},
    "encoding": {
     "x": {"field": "d", "type": "temporal", "scale": {"type": "utc", "domain": [{"year":2011,"month":3,"date":10,"utc":true},{"year":2011,"month":12,"date":31,"utc":true}]}, "axis": null},
     "y": {"field": "tip", "type": "quantitative", "scale": {"domain": [-11, 500]}}
    }
   },
   {
    "data": {"name": "rnotes"},
    "mark": {"type": "text", "angle": 270, "align": "left", "baseline": "middle", "fontSize": 20, "font": "Liberation Sans", "color": "black"},
    "encoding": {
     "x": {"field": "d", "type": "temporal", "scale": {"type": "utc", "domain": [{"year":2011,"month":3,"date":10,"utc":true},{"year":2011,"month":12,"date":31,"utc":true}]}, "axis": null},
     "y": {"field": "v", "type": "quantitative", "scale": {"domain": [-11, 500]}},
     "text": {"field": "label"}
    }
   },
   {
    "data": {"name": "hnotes"},
    "mark": {"type": "text", "align": "left", "baseline": "alphabetic", "fontSize": 21, "font": "Liberation Sans", "color": "black"},
    "encoding": {
     "x": {"field": "d", "type": "temporal", "scale": {"type": "utc", "domain": [{"year":2011,"month":3,"date":10,"utc":true},{"year":2011,"month":12,"date":31,"utc":true}]}, "axis": null},
     "y": {"field": "v", "type": "quantitative", "scale": {"domain": [-11, 500]}},
     "text": {"field": "label"}
    }
   }
  ]
 },
 {
  "width": 765, "height": 436,
  "resolve": {"axis": {"y": "independent"}},
  "layer": [
   {
    "data": {"name": "prec"},
    "mark": {"type": "bar", "width": 2.6},
    "encoding": {
     "x": {"field": "d", "type": "temporal", "scale": {"type": "utc", "domain": [{"year":2011,"month":3,"date":10,"utc":true},{"year":2011,"month":12,"date":31,"utc":true}]},
      "axis": {"orient": "bottom", "title": null, "labels": false, "values": [{"year":2011,"month":4,"date":1,"utc":true},{"year":2011,"month":5,"date":1,"utc":true},{"year":2011,"month":6,"date":1,"utc":true},{"year":2011,"month":7,"date":1,"utc":true},{"year":2011,"month":8,"date":1,"utc":true},{"year":2011,"month":9,"date":1,"utc":true},{"year":2011,"month":10,"date":1,"utc":true},{"year":2011,"month":11,"date":1,"utc":true},{"year":2011,"month":12,"date":1,"utc":true}]}},
     "y": {"field": "p", "type": "quantitative", "scale": {"domain": [0, 108.7]},
      "axis": {"orient": "left", "values": [0,10,20,30,40,50,60,70,80,90,100], "title": "Daily precipitation (mm)\u00a0 WFPS (%)", "titleX": -70, "titleY": 220, "titleAngle": 270, "titleBaseline": "middle", "titleAlign": "center"}},
     "color": {"datum": "Precipitation", "type": "nominal", "scale": {"domain": ["Precipitation","CT","RT","NT"], "range": ["#c0c0c0","#ff0000","#0000ff","#008000"]}}
    }
   },
   {
    "data": {"name": "wfps"},
    "transform": [{"fold": ["CT","RT","NT"], "as": ["t","v"]}, {"filter": "isValid(datum.v)"}],
    "mark": {"type": "line", "strokeWidth": 1.2},
    "encoding": {
     "x": {"field": "d", "type": "temporal", "scale": {"type": "utc", "domain": [{"year":2011,"month":3,"date":10,"utc":true},{"year":2011,"month":12,"date":31,"utc":true}]}},
     "y": {"field": "v", "type": "quantitative", "scale": {"domain": [0, 108.7]}, "axis": null},
     "detail": {"field": "s", "type": "nominal"},
     "color": {"field": "t", "type": "nominal", "scale": {"domain": ["Precipitation","CT","RT","NT"], "range": ["#c0c0c0","#ff0000","#0000ff","#008000"]},
      "legend": {"orient": "none", "legendX": 339, "legendY": 28.5, "title": null, "padding": 0, "symbolSize": 100, "labelOffset": 26, "rowPadding": 4.3, "values": ["Precipitation","CT","RT","NT"],
       "encode": {"symbols": {"update": {
        "shape": {"signal": "datum.value === 'Precipitation' ? 'M-4.9,-1.7H4.9V1.7H-4.9Z' : 'M-4.9,0H4.9'"},
        "fill": {"signal": "datum.value === 'Precipitation' ? '#c0c0c0' : 'transparent'"},
        "stroke": {"signal": "datum.value === 'CT' ? '#ff0000' : (datum.value === 'RT' ? '#0000ff' : (datum.value === 'NT' ? '#008000' : 'transparent'))"},
        "strokeWidth": {"value": 1.5},
        "size": {"value": 100},
        "opacity": {"value": 1}
       }}}}}
    }
   },
   {
    "data": {"name": "temp"},
    "transform": [{"fold": ["CT","RT","NT"], "as": ["t","v"]}],
    "mark": {"type": "line", "strokeWidth": 1.2},
    "encoding": {
     "x": {"field": "d", "type": "temporal", "scale": {"type": "utc", "domain": [{"year":2011,"month":3,"date":10,"utc":true},{"year":2011,"month":12,"date":31,"utc":true}]}},
     "y": {"field": "v", "type": "quantitative", "scale": {"domain": [0, 108.7]},
      "axis": {"orient": "right", "values": [0,10,20,30,40,50,60,70,80,90,100], "title": "Soil temperature (°C)", "titleX": 76, "titleY": 314, "titleAngle": 270, "titleBaseline": "middle", "titleAlign": "center", "labelPadding": 10}},
     "detail": {"field": "s", "type": "nominal"},
     "color": {"field": "t", "type": "nominal", "scale": {"domain": ["Precipitation","CT","RT","NT"], "range": ["#c0c0c0","#ff0000","#0000ff","#008000"]}}
    }
   }
  ]
 },
 {
  "width": 765, "height": 240,
  "data": {"name": "no3"},
  "transform": [{"fold": ["CT","RT","NT"], "as": ["t","v"]}],
  "encoding": {
   "x": {"field": "d", "type": "temporal", "scale": {"type": "utc", "domain": [{"year":2011,"month":3,"date":10,"utc":true},{"year":2011,"month":12,"date":31,"utc":true}]},
    "axis": {"orient": "bottom", "title": null, "labels": false, "values": [{"year":2011,"month":4,"date":1,"utc":true},{"year":2011,"month":5,"date":1,"utc":true},{"year":2011,"month":6,"date":1,"utc":true},{"year":2011,"month":7,"date":1,"utc":true},{"year":2011,"month":8,"date":1,"utc":true},{"year":2011,"month":9,"date":1,"utc":true},{"year":2011,"month":10,"date":1,"utc":true},{"year":2011,"month":11,"date":1,"utc":true},{"year":2011,"month":12,"date":1,"utc":true}]}},
   "y": {"field": "v", "type": "quantitative", "scale": {"domain": [-2, 22]},
    "axis": {"values": [0,5,10,15,20], "title": "NO₃-N (μg/g dw soil)", "titleX": -70, "titleY": 115, "titleAngle": 270, "titleBaseline": "middle", "titleAlign": "center"}},
   "color": {"field": "t", "type": "nominal", "scale": {"domain": ["CT","RT","NT"], "range": ["#ff0000","#0000ff","#008000"]}, "legend": null}
  },
  "layer": [
   {"mark": {"type": "line", "strokeWidth": 1, "strokeOpacity": 0.5}},
   {"mark": {"type": "circle", "size": 140, "opacity": 1}}
  ]
 },
 {
  "width": 765, "height": 240,
  "data": {"name": "nh4"},
  "transform": [{"fold": ["CT","RT","NT"], "as": ["t","v"]}],
  "encoding": {
   "x": {"field": "d", "type": "temporal", "scale": {"type": "utc", "domain": [{"year":2011,"month":3,"date":10,"utc":true},{"year":2011,"month":12,"date":31,"utc":true}]},
    "axis": {"orient": "bottom", "title": null, "labelExpr": "utcFormat(datum.value, '%b')", "values": [{"year":2011,"month":4,"date":1,"utc":true},{"year":2011,"month":5,"date":1,"utc":true},{"year":2011,"month":6,"date":1,"utc":true},{"year":2011,"month":7,"date":1,"utc":true},{"year":2011,"month":8,"date":1,"utc":true},{"year":2011,"month":9,"date":1,"utc":true},{"year":2011,"month":10,"date":1,"utc":true},{"year":2011,"month":11,"date":1,"utc":true},{"year":2011,"month":12,"date":1,"utc":true}]}},
   "y": {"field": "v", "type": "quantitative", "scale": {"domain": [0, 110]},
    "axis": {"values": [0,20,40,60,80,100], "title": "NH₄-N (μg/g dw soil)", "titleX": -70, "titleY": 125, "titleAngle": 270, "titleBaseline": "middle", "titleAlign": "center"}},
   "color": {"field": "t", "type": "nominal", "scale": {"domain": ["CT","RT","NT"], "range": ["#ff0000","#0000ff","#008000"]},
    "legend": {"orient": "none", "legendX": 632, "legendY": 28, "title": null, "padding": 19, "strokeColor": "black", "fillColor": "white", "symbolSize": 144, "symbolOffset": 10, "labelOffset": 24, "rowPadding": 4.5,
     "encode": {
      "legend": {"update": {"strokeWidth": {"value": 2}}},
      "symbols": {"update": {
       "shape": {"value": "M-4,0H-1M1,0H4M1,0A1,1,0,1,1,-1,0A1,1,0,1,1,1,0Z"},
       "fill": {"signal": "datum.value === 'CT' ? '#ff0000' : (datum.value === 'RT' ? '#0000ff' : '#008000')"},
       "stroke": {"signal": "datum.value === 'CT' ? '#ff0000' : (datum.value === 'RT' ? '#0000ff' : '#008000')"},
       "strokeOpacity": {"value": 0.5},
       "strokeWidth": {"value": 1.3},
       "size": {"value": 144},
       "opacity": {"value": 1}
      }}
     }}}
  },
  "layer": [
   {"mark": {"type": "line", "strokeWidth": 1, "strokeOpacity": 0.5}},
   {"mark": {"type": "circle", "size": 140, "opacity": 1}}
  ]
 }
]
}
